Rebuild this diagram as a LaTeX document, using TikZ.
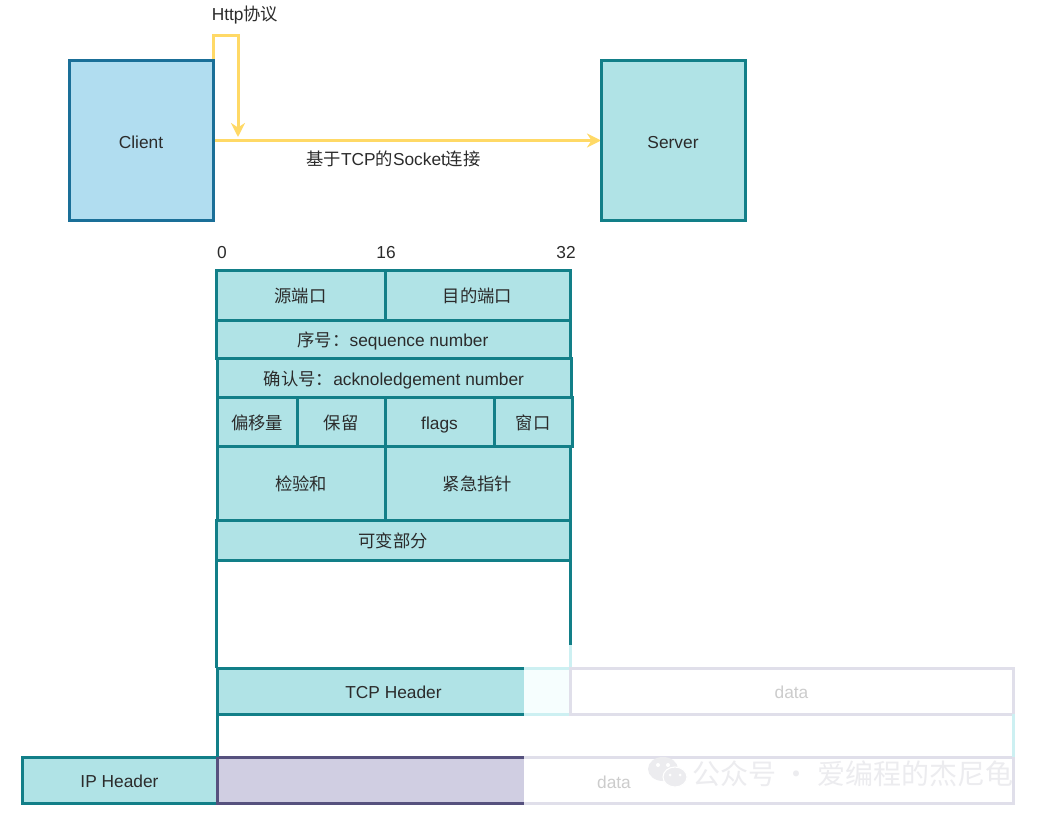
\documentclass[tikz,border=0pt]{standalone}
\usepackage{fontspec}
\setmainfont{Liberation Sans}
\newfontfamily\cjk{Noto Sans CJK SC}
\usetikzlibrary{arrows.meta, positioning, backgrounds}
\definecolor{tealfill}{HTML}{B0E3E6}
\definecolor{tealline}{HTML}{127F88}
\definecolor{bluefill}{HTML}{B1DDF0}
\definecolor{blueline}{HTML}{1A6F98}
\definecolor{purplefill}{HTML}{D0CEE2}
\definecolor{purpleline}{HTML}{56517E}
\definecolor{linkyellow}{HTML}{FFD966}
\definecolor{inktext}{HTML}{2B2B2B}
\definecolor{markgray}{HTML}{ECECEF}
\definecolor{fadeline}{HTML}{E0DFEA}
\definecolor{fadecyan}{HTML}{CDF0F2}
\definecolor{fadefill}{HTML}{F6FEFE}
\definecolor{fadetext}{HTML}{CCCCCC}
\tikzset{px/.style 2 args={minimum width=#1*0.75pt, minimum height=#2*0.75pt},
    cell/.style={draw=tealline, fill=tealfill, line width=2.25pt, inner sep=0pt, outer sep=0pt,
        text=inktext, text height=11.5pt, text depth=0pt, font=\fontsize{13}{15}\selectfont},
    client cell/.style={cell, draw=blueline, fill=bluefill},
    payload cell/.style={cell, draw=purpleline, fill=purplefill},
    plain cell/.style={cell, fill=white, draw=fadeline, text=fadetext},
    label/.style={inner sep=0pt, text=inktext, font=\fontsize{13}{15}\selectfont},
    guide/.style={draw=tealline, line width=2.25pt},
    faded guide/.style={draw=fadecyan, line width=2.25pt},
    link/.style={draw=linkyellow, line width=2.25pt, -{Stealth[length=10.5pt, width=10.5pt]}}}

\begin{document}
\begin{tikzpicture}[x=0.75pt, y=-0.75pt]
  \useasboundingbox (0,0) rectangle (1047,817);

  % Client and server
  \node[client cell, px={144}{159}] (client) at (141,140.5) {Client};
  \node[cell, px={144}{159}] (server) at (673,140.5) {Server};
  \coordinate (turn1) at (213,36);
  \coordinate (turn2) at (238,36);
  \coordinate (httpend) at (238,137);
  \begin{scope}[on background layer]
    \draw[link] (client.north east) -- (turn1) -- (turn2) -- (httpend);
    \draw[link] (client.east) -- (server.west);
  \end{scope}
  \node[label] (httplabel) at (245,15) {Http{\cjk 协议}};
  \node[label] (socketlabel) at (393.5,159) {{\cjk 基于}TCP{\cjk 的}Socket{\cjk 连接}};

  % Bit positions
  \node[label] (bit0) at (222,253) {0};
  \node[label] (bit16) at (386,253) {16};
  \node[label] (bit32) at (566,253) {32};

  % Header fields
  \node[cell, px={169}{50}] (srcport) at (300.5,295) {\cjk 源端口};
  \node[cell, px={185}{50}] (dstport) at (477.5,295) {\cjk 目的端口};
  \node[cell, px={354}{38}] (seqnum) at (393,339) {{\cjk 序号：}sequence number};
  \node[cell, px={354}{39}] (acknum) at (394,377.5) {{\cjk 确认号：}acknoledgement number};
  \node[cell, px={80}{49}] (offset) at (257,421.5) {\cjk 偏移量};
  \node[cell, px={88}{49}] (reserved) at (341,421.5) {\cjk 保留};
  \node[cell, px={109}{49}] (flags) at (439.5,421.5) {flags};
  \node[cell, px={78}{49}] (window) at (533,421.5) {\cjk 窗口};
  \node[cell, px={168}{74}] (checksum) at (301,483) {\cjk 检验和};
  \node[cell, px={185}{74}] (urgent) at (477.5,483) {\cjk 紧急指针};
  \node[cell, px={354}{40}] (varpart) at (393,540) {\cjk 可变部分};

  % Segment and packet
  \node[cell, px={353}{46}] (tcphead) at (393.5,691) {TCP Header};
  \node[cell, px={195}{46}] (iphead) at (119.5,780) {IP Header};
  \node[payload cell, px={796}{46}] (ipdata) at (615,780) {};
  \coordinate (gap) at (570,645);
  \draw[guide] (varpart.south west) -- (varpart.south west |- tcphead.north west);
  \draw[guide] (varpart.south east) -- (gap);
  \draw[guide] (tcphead.south west) -- (ipdata.north west);

  % Faded part
  \fill[white] (524,755) rectangle (1017,806);
  \draw[draw=fadeline, line width=2.25pt] (524,757) -- (1013,757) -- (1013,803) -- (524,803);
  \fill[fadefill] (524,668) rectangle (570,714);
  \draw[faded guide] (524,668) -- (570,668);
  \draw[faded guide] (524,714) -- (570,714);
  \draw[faded guide] (gap) -- (tcphead.north east);
  \node[plain cell, px={443}{46}] (tcpdata) at (791.5,691) {data};
  \draw[faded guide] (tcpdata.south east) -- (ipdata.north east);
  \node[label, text=fadetext] (ipdatalabel) at (614,782) {data};

  % Watermark
  \fill[markgray] (663,769) ellipse (15 and 12);
  \fill[markgray, draw=white, line width=0.8pt] (675,777) ellipse (12 and 10);
  \foreach \dotx/\doty in {658/765,668/765} \fill[white] (\dotx,\doty) circle (2);
  \foreach \dotx/\doty in {670/775,680/775} \fill[white] (\dotx,\doty) circle (1.5);
  \node[inner sep=0pt, text=markgray, font=\fontsize{21}{24}\selectfont\cjk] (mark) at (853,774) {公众号 · 爱编程的杰尼龟};
\end{tikzpicture}
\end{document}
